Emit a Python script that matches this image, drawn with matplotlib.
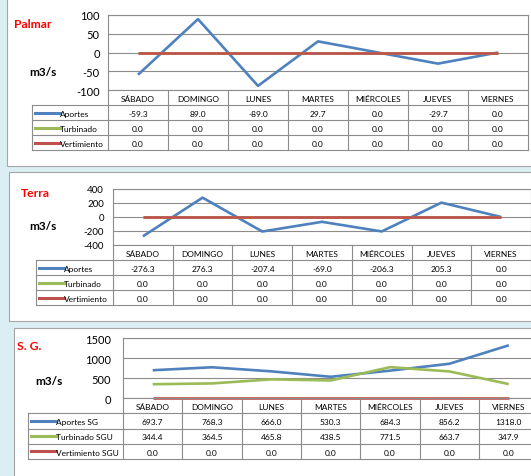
import matplotlib.pyplot as plt
from matplotlib.patches import Rectangle
from matplotlib.lines import Line2D

plt.rcParams['font.family'] = ['Lato', 'DejaVu Sans']

W, H = 531, 477

dias = ['SÁBADO', 'DOMINGO', 'LUNES', 'MARTES', 'MIÉRCOLES', 'JUEVES', 'VIERNES']

# Palmar
palmar_aportes = [-59.3, 89.0, -89.0, 29.7, 0.0, -29.7, 0.0]
palmar_turbinado = [0.0, 0.0, 0.0, 0.0, 0.0, 0.0, 0.0]
palmar_vertimiento = [0.0, 0.0, 0.0, 0.0, 0.0, 0.0, 0.0]

# Terra
terra_aportes = [-276.3, 276.3, -207.4, -69.0, -206.3, 205.3, 0.0]
terra_turbinado = [0.0, 0.0, 0.0, 0.0, 0.0, 0.0, 0.0]
terra_vertimiento = [0.0, 0.0, 0.0, 0.0, 0.0, 0.0, 0.0]

# Salto Grande
sg_aportes = [693.7, 768.3, 666.0, 530.3, 684.3, 856.2, 1318.0]
sg_turbinado = [344.4, 364.5, 465.8, 438.5, 771.5, 663.7, 347.9]
sg_vertimiento = [0.0, 0.0, 0.0, 0.0, 0.0, 0.0, 0.0]

colores = ['#4F81BD', '#9BBB59', '#C0504D']
gris = '#8C8C8C'

fig = plt.figure(figsize=(W / 100, H / 100), dpi=100, facecolor='#DBEEF4')


def box(left, top, right, bottom):
    fig.patches.append(Rectangle((left / W, 1 - bottom / H), (right - left) / W, (bottom - top) / H,
                                 transform=fig.transFigure, facecolor='white', edgecolor='#A6A6A6',
                                 lw=0.8, zorder=-5))


def panel(nombre, series, etiquetas, yticks, pl, pr, pt, pb, rh, leg_left, titulo_xy, unidad_xy,
          tick_fs, tick_pad):
    ax = fig.add_axes([pl / W, 1 - pb / H, (pr - pl) / W, (pb - pt) / H])
    x = range(len(dias))
    for s, c in zip(series, colores):
        ax.plot(x, s, color=c, lw=1.9, solid_capstyle='butt', clip_on=False)
    ax.set_xlim(-0.5, len(dias) - 0.5)
    ax.set_ylim(yticks[0], yticks[-1])
    ax.set_yticks(yticks)
    ax.set_yticklabels([str(t) for t in yticks])
    ax.set_xticks([])
    ax.tick_params(axis='y', length=0, pad=tick_pad, labelsize=tick_fs)
    ax.grid(axis='y', color=gris, lw=0.8)
    ax.set_axisbelow(True)
    for sp in ax.spines.values():
        sp.set_color(gris)
        sp.set_linewidth(0.8)

    fig.text(titulo_xy[0] / W, 1 - titulo_xy[1] / H, nombre, color='#FF0000', fontweight='bold',
             fontsize=8.7, ha='left', va='center')
    fig.text(unidad_xy[0] / W, 1 - unidad_xy[1] / H, 'm3/s', fontweight='bold',
             fontsize=8.5, ha='center', va='center')

    # tabla de datos
    tb = pb + rh * 4
    tab = fig.add_axes([pl / W, 1 - tb / H, (pr - pl) / W, (tb - pb) / H])
    tab.set_xlim(-0.5, len(dias) - 0.5)
    tab.set_ylim(4, 0)
    tab.axis('off')
    colw = (pr - pl) / len(dias)
    xl = -0.5 - (pl - leg_left) / colw
    for r in range(1, 5):
        tab.add_line(Line2D([xl, 6.5], [r, r], color=gris, lw=0.8, clip_on=False))
    for k in range(len(dias) + 1):
        tab.add_line(Line2D([k - 0.5, k - 0.5], [0, 4], color=gris, lw=0.8, clip_on=False))
    tab.add_line(Line2D([xl, xl], [1, 4], color=gris, lw=0.8, clip_on=False))
    for i, d in enumerate(dias):
        tab.text(i, 0.55, d, ha='center', va='center', fontsize=6)
    for r, (s, c, lab) in enumerate(zip(series, colores, etiquetas)):
        y = r + 1.55
        for i, v in enumerate(s):
            tab.text(i, y, f'{v:.1f}', ha='center', va='center', fontsize=6)
        x0 = xl + 3 / colw
        x1 = x0 + 25 / colw
        tab.add_line(Line2D([x0, x1], [y - 0.05, y - 0.05], color=c, lw=2.2, clip_on=False))
        tab.text(x1, y, lab, ha='left', va='center', fontsize=6)
    return ax


box(7, -5, 545, 167)
box(9, 173, 545, 322)
box(14, 329, 545, 490)

panel('Palmar', [palmar_aportes, palmar_turbinado, palmar_vertimiento],
      ['Aportes', 'Turbinado', 'Vertimiento'], [-100, -50, 0, 50, 100],
      108, 528, 16, 91, 15, 32, (14, 24), (43, 72), 8, 6)

panel('Terra', [terra_aportes, terra_turbinado, terra_vertimiento],
      ['Aportes', 'Turbinado', 'Vertimiento'], [-400, -200, 0, 200, 400],
      113, 531, 190, 246, 15, 36, (21, 194), (43, 227), 7, 6.5)

panel('S. G.', [sg_aportes, sg_turbinado, sg_vertimiento],
      ['Aportes SG', 'Turbinado SGU', 'Vertimiento SGU'], [0, 500, 1000, 1500],
      123, 538.5, 339, 399, 15.25, 28, (17, 347), (49, 382), 8, 8.5)

fig.savefig('out.png', dpi=100, facecolor=fig.get_facecolor())
